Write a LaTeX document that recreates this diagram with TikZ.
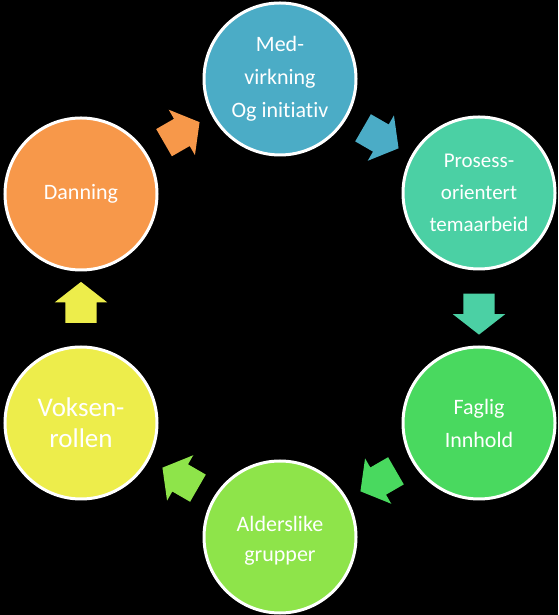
\documentclass[tikz,border=0pt]{standalone}
\usepackage{fontspec}
\setmainfont{Carlito}[Ligatures=NoCommon]
\usetikzlibrary{calc,shapes.arrows}
\definecolor{medblue}{HTML}{4BACC6}
\definecolor{proteal}{HTML}{4BD0A4}
\definecolor{faggreen}{HTML}{49D95F}
\definecolor{aldgreen}{HTML}{8EE44A}
\definecolor{vokyellow}{HTML}{EDED4B}
\definecolor{danorange}{HTML}{F7984A}

\begin{document}
\begin{tikzpicture}[x=1pt, y=1pt,
	bubble/.style={circle, draw=white, line width=3pt, minimum size=152pt, inner sep=0pt,
		text=white, align=center, font=\fontsize{22}{33}\selectfont},
	blockarrow/.style={single arrow, minimum height=41pt, inner xsep=0pt, inner ysep=15.5pt,
		single arrow head extend=10.5pt, single arrow tip angle=104}]
		%%%%% START %%%%%
		
		\fill[black] (0, 0) rectangle (558, 615);
		
		\node[bubble, fill=medblue] (med) at (280, 536) {Med-\\virkning\\Og initiativ};
		\node[bubble, fill=proteal, font=\fontsize{21}{32}\selectfont] (pro) at (479, 422) {Prosess-\\orientert\\temaarbeid};
		\node[bubble, fill=faggreen] (fag) at (479, 192) {Faglig\\Innhold};
		\node[bubble, fill=aldgreen] (ald) at (280, 78) {};
		\node[text=white, align=center, font=\fontsize{22}{30}\selectfont] (aldtext) at (280, 74) {Alderslike\\grupper};
		\node[bubble, fill=vokyellow, font=\fontsize{27}{31}\selectfont] (vok) at (81, 192) {Voksen-\\rollen};
		\node[bubble, fill=danorange] (dan) at (81, 421) {Danning};
		
		\node[blockarrow, fill=danorange, rotate=30] (a1) at ($(dan)!0.5!(med)+(-4, 1)$) {};
		\node[blockarrow, fill=medblue, rotate=-30] (a2) at ($(med)!0.5!(pro)+(-4, 1)$) {};
		\node[blockarrow, fill=proteal, rotate=-90] (a3) at ($(pro)!0.5!(fag)$) {};
		\node[blockarrow, fill=faggreen, rotate=210] (a4) at ($(fag)!0.5!(ald)+(4, 2)$) {};
		\node[blockarrow, fill=aldgreen, rotate=150] (a5) at ($(ald)!0.5!(vok)+(5, -1)$) {};
		\node[blockarrow, fill=vokyellow, rotate=90] (a6) at ($(vok)!0.5!(dan)$) {};
		
		%%%%% END %%%%%
	\end{tikzpicture}
\end{document}
